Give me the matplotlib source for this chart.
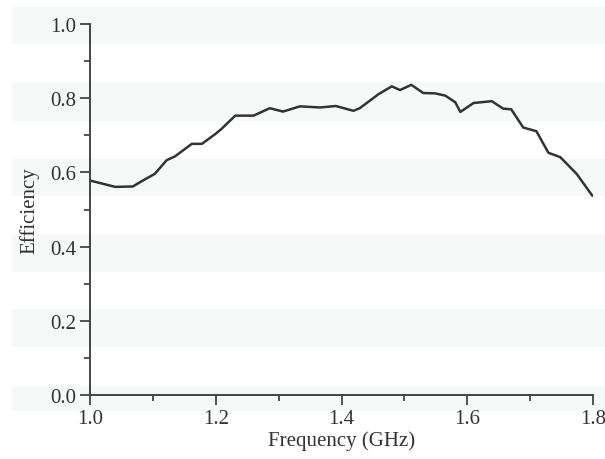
import matplotlib as mpl
mpl.use('Agg')

import numpy as np
import matplotlib.pyplot as plt
from matplotlib.patches import Rectangle
from matplotlib.ticker import MultipleLocator

# measured efficiency vs frequency
freq_ghz = [1.000, 1.019, 1.040, 1.068, 1.084, 1.103, 1.122, 1.135, 1.162,
            1.178, 1.199, 1.209, 1.231, 1.260, 1.286, 1.307, 1.334, 1.366,
            1.391, 1.419, 1.429, 1.459, 1.480, 1.493, 1.511, 1.530, 1.549,
            1.565, 1.581, 1.589, 1.610, 1.639, 1.657, 1.670, 1.689, 1.710,
            1.729, 1.748, 1.774, 1.799]
efficiency = [0.578, 0.570, 0.561, 0.562, 0.578, 0.596, 0.633, 0.643, 0.677,
              0.677, 0.703, 0.717, 0.753, 0.753, 0.773, 0.764, 0.778, 0.775,
              0.779, 0.766, 0.773, 0.811, 0.832, 0.822, 0.836, 0.814, 0.813,
              0.807, 0.789, 0.763, 0.787, 0.792, 0.772, 0.770, 0.721, 0.711,
              0.653, 0.641, 0.596, 0.537]

plt.rcParams['font.family'] = ['Liberation Serif', 'DejaVu Serif']

fig = plt.figure(figsize=(6.05, 4.6), dpi=100)

# faint horizontal banding across the page
W, H = 605, 460
for top, bot in [(8, 45), (83, 122), (160, 197), (235, 273), (310, 348), (387, 412)]:
    fig.patches.append(Rectangle((12 / W, 1 - bot / H), 1, (bot - top) / H,
                                 transform=fig.transFigure, color='#f7f8f8',
                                 zorder=-10, linewidth=0))

ax = fig.add_axes([90 / W, 64 / H, 503 / W, 371 / H])
ax.patch.set_alpha(0)

ax.plot(freq_ghz, efficiency, color='#333333', linewidth=1.8,
        solid_joinstyle='round', solid_capstyle='round')

ax.set_xlim(1.0, 1.8)
ax.set_ylim(0.0, 1.0)
ax.xaxis.set_major_locator(MultipleLocator(0.2))
ax.xaxis.set_minor_locator(MultipleLocator(0.1))
ax.yaxis.set_major_locator(MultipleLocator(0.2))
ax.yaxis.set_minor_locator(MultipleLocator(0.1))
ax.xaxis.set_major_formatter(mpl.ticker.FormatStrFormatter('%.1f'))
ax.yaxis.set_major_formatter(mpl.ticker.FormatStrFormatter('%.1f'))

for side in ['top', 'right']:
    ax.spines[side].set_visible(False)
for side in ['left', 'bottom']:
    ax.spines[side].set_color('#444444')
    ax.spines[side].set_linewidth(1.4)

ax.tick_params(which='major', direction='out', length=7, width=1.3,
               color='#444444', labelsize=15, labelcolor='#333333', pad=3)
ax.tick_params(which='minor', direction='out', length=4, width=1.3,
               color='#444444')

ax.set_xlabel("Frequency (GHz)", fontsize=15, color='#333333', labelpad=2)
ax.set_ylabel("Efficiency", fontsize=15, color='#333333', labelpad=8)

fig.savefig("out.png", dpi=100)
